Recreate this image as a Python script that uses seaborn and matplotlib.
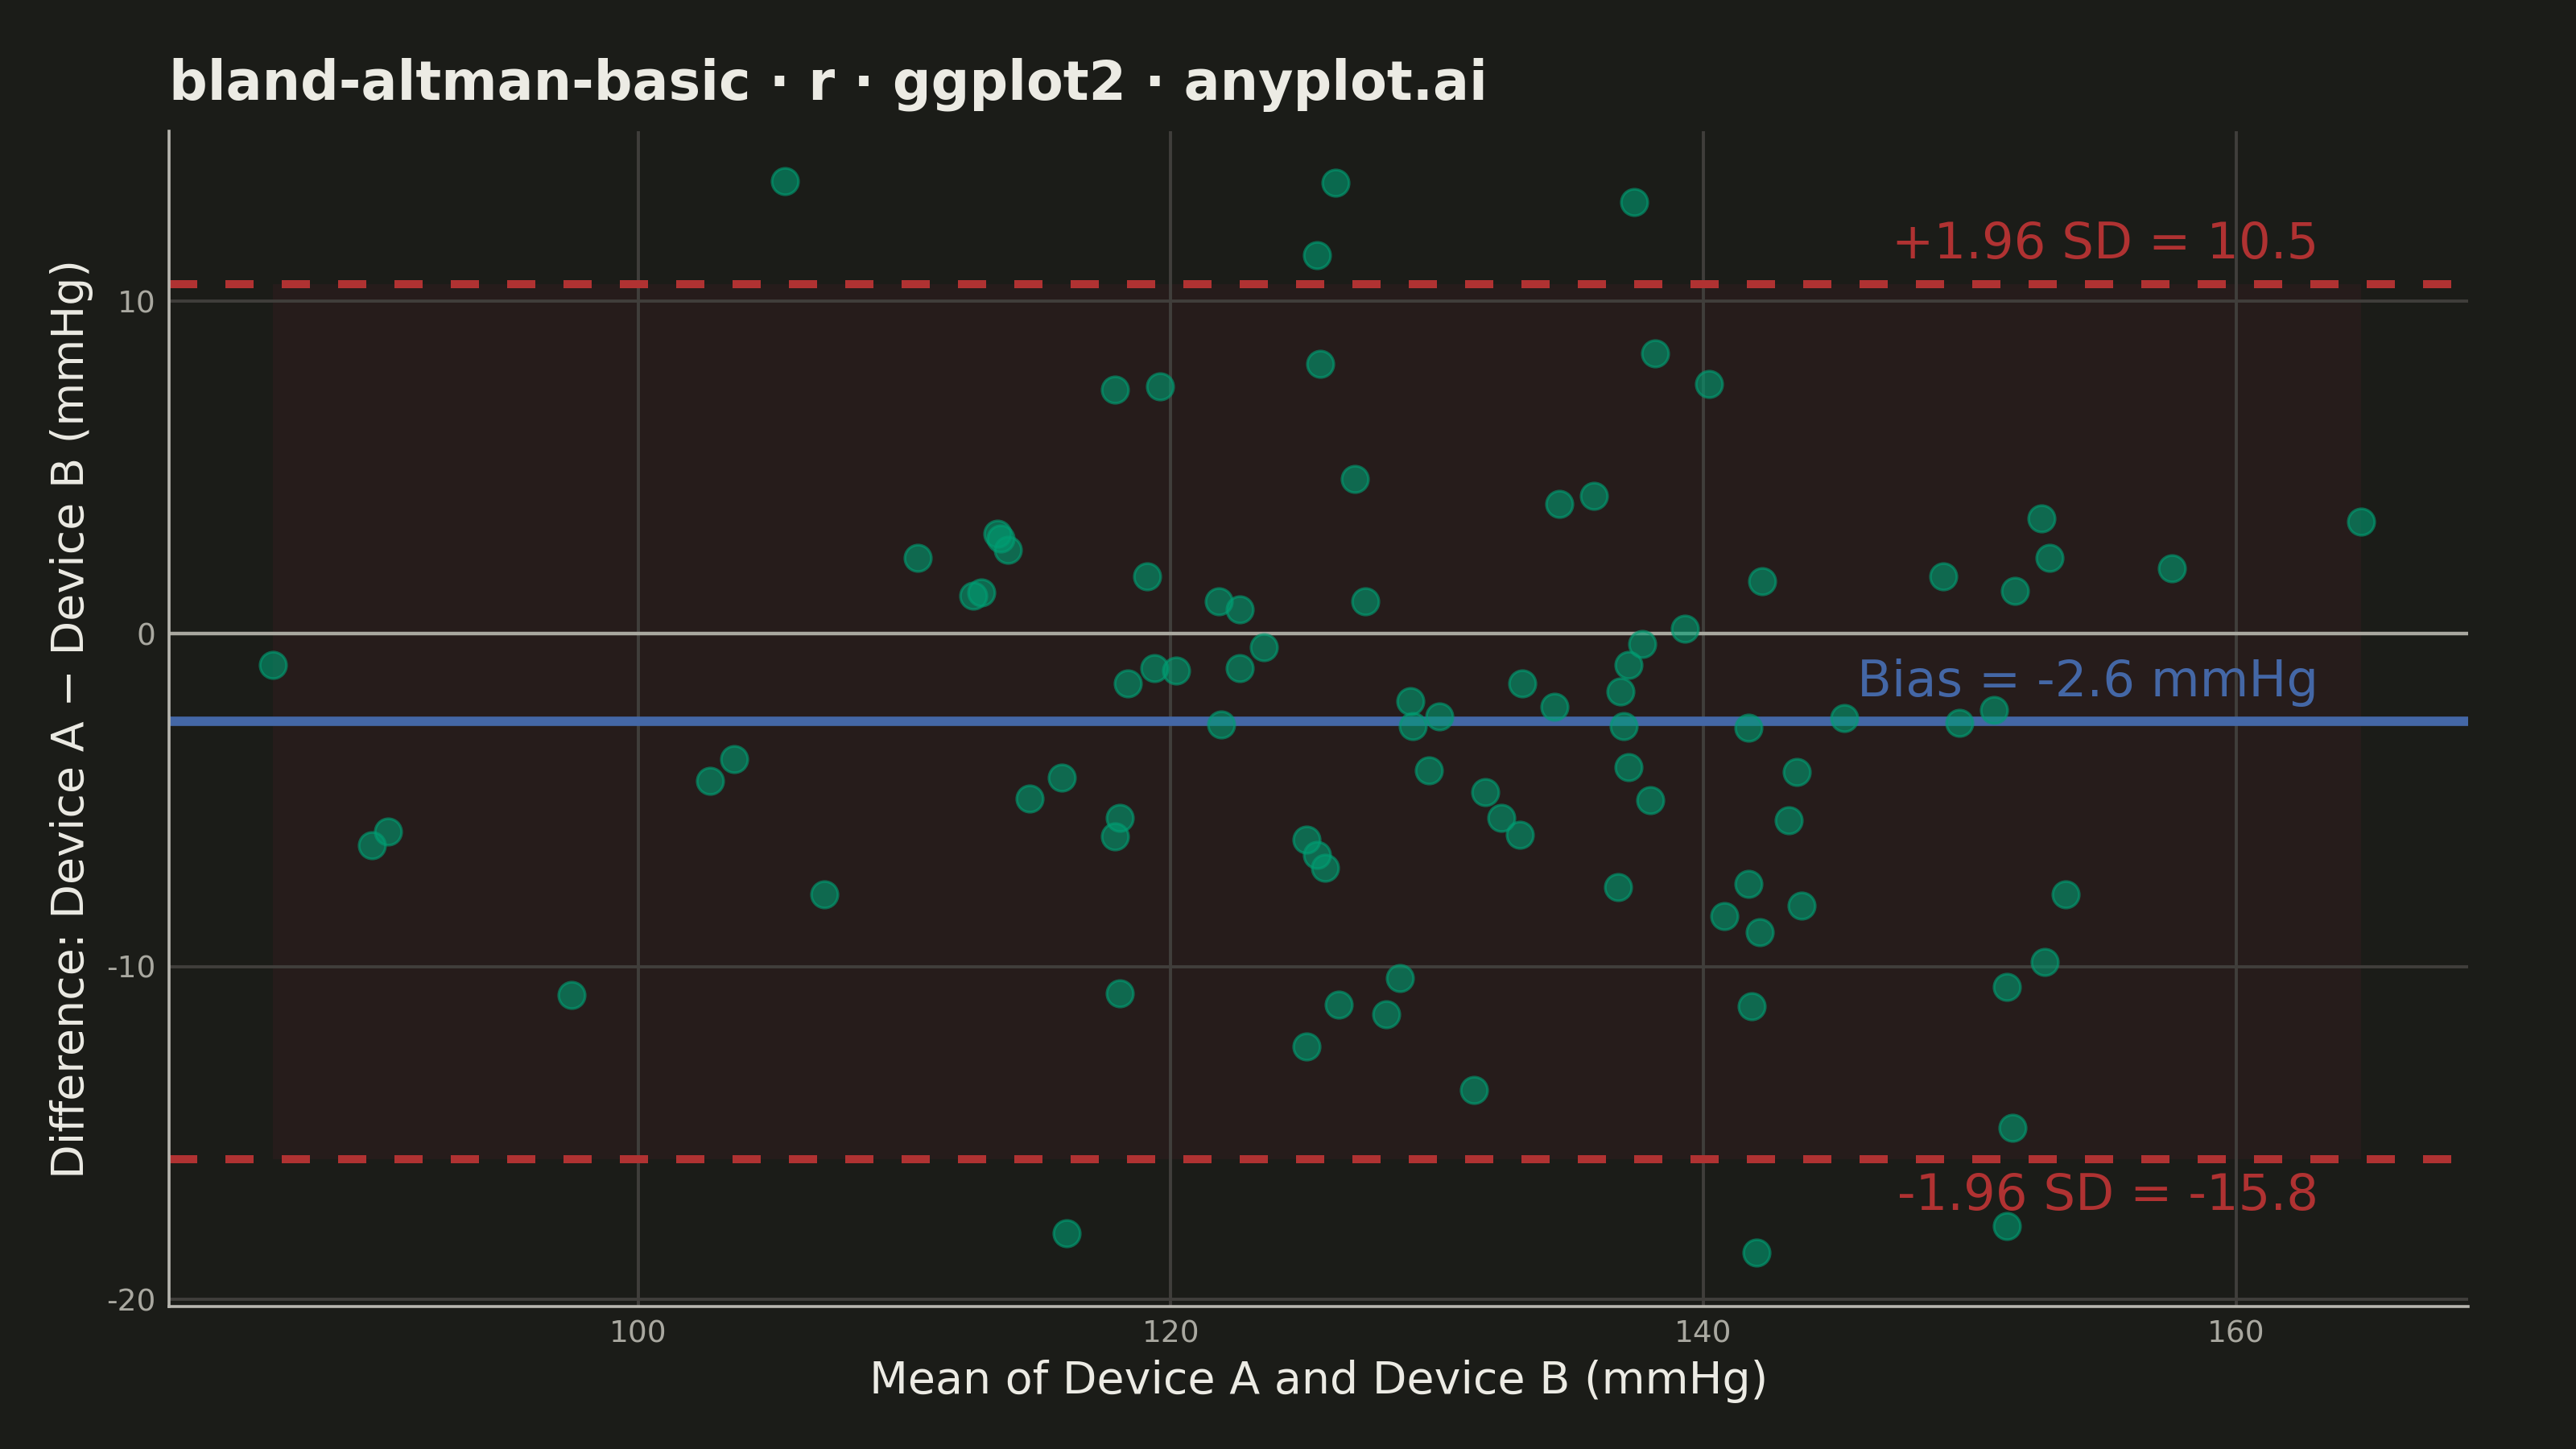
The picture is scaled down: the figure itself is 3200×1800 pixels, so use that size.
import matplotlib
matplotlib.use("Agg")
import numpy as np
import pandas as pd
import matplotlib.pyplot as plt
import seaborn as sns

# mean of the two devices (mmHg) and difference A - B (mmHg)
mean_ab = [86.3, 90.0, 90.6, 97.5, 102.7, 103.6, 105.5, 107.0, 110.5, 112.6,
           112.9, 113.5, 113.6, 113.9, 114.7, 115.9, 116.1, 117.9, 117.9, 118.1,
           118.1, 118.4, 119.1, 119.4, 119.6, 120.2, 121.8, 121.9, 122.6, 122.6,
           123.5, 125.1, 125.1, 125.5, 125.5, 125.6, 125.8, 126.2, 126.3, 126.9,
           127.3, 128.1, 128.6, 129.0, 129.1, 129.7, 130.1, 131.4, 131.8, 132.4,
           133.1, 133.2, 134.4, 134.6, 135.9, 136.8, 136.9, 137.0, 137.2, 137.2,
           137.4, 137.7, 138.0, 138.2, 139.3, 140.2, 140.8, 141.7, 141.7, 141.8,
           142.0, 142.1, 142.2, 143.2, 143.5, 143.7, 145.3, 149.0, 149.6, 150.9,
           151.4, 151.4, 151.6, 151.7, 152.7, 152.8, 153.0, 153.6, 157.6, 164.7]
diff_ab = [-0.94, -6.34, -5.94, -10.84, -4.41, -3.76, 13.6, -7.82, 2.28, 1.14,
           1.24, 3.02, 2.87, 2.52, -4.95, -4.31, -18.0, 7.33, -6.09, -5.54,
           -10.8, -1.49, 1.73, -1.04, 7.43, -1.09, 0.99, -2.72, 0.74, -1.04,
           -0.40, -6.19, -12.4, -6.63, 11.39, 8.12, -7.03, 13.56, -11.14, 4.65,
           0.99, -11.44, -10.35, -2.03, -2.77, -4.11, -2.48, -13.7, -4.75, -5.54,
           -6.04, -1.49, -2.18, 3.91, 4.16, -7.62, -1.73, -2.77, -0.94, -4.01,
           12.97, -0.30, -5.0, 8.42, 0.15, 7.52, -8.47, -7.52, -2.82, -11.19,
           -18.6, -8.96, 1.58, -5.59, -4.16, -8.17, -2.52, 1.73, -2.67, -2.28,
           -10.6, -17.8, -14.85, 1.29, 3.47, -9.85, 2.28, -7.82, 1.98, 3.37]

# summary statistics as printed on the chart
bias = -2.63
loa_upper = 10.52
loa_lower = -15.78

x_ticks = [100, 120, 140, 160]
y_ticks = [-20, -10, 0, 10]

BG = "#1b1c18"
TEXT = "#ecebe4"
TICK = "#a9a8a0"
GRID = "#403e3b"
GREEN = "#009E73"
BLUE = "#4467a6"
RED = "#b03232"

df = pd.DataFrame({"mean": mean_ab, "diff": diff_ab})

sns.set_theme(style="dark", rc={
    "figure.facecolor": BG,
    "axes.facecolor": BG,
    "axes.edgecolor": TICK,
    "text.color": TEXT,
    "axes.labelcolor": TEXT,
    "xtick.color": TICK,
    "ytick.color": TICK,
})
plt.rcParams["font.family"] = ["DejaVu Sans"]

fig = plt.figure(figsize=(16, 9), dpi=200)
ax = fig.add_axes([0.0657, 0.0986, 0.8923, 0.8107])

# agreement band between the limits
ax.fill_between([df["mean"].min(), df["mean"].max()], loa_lower, loa_upper,
                color="#261c1b", zorder=0.2, lw=0)

# grid
for xv in x_ticks:
    ax.axvline(xv, color=GRID, lw=1.4, zorder=0.5)
for yv in y_ticks:
    ax.axhline(yv, color=GRID, lw=1.4, zorder=0.5)

ax.axhline(0, color="#a9a8a0", lw=1.6, zorder=1)
ax.axhline(bias, color=BLUE, lw=4.2, zorder=2)
ax.axhline(loa_upper, color=RED, lw=3.6, ls=(0, (3.5, 3.5)), zorder=2)
ax.axhline(loa_lower, color=RED, lw=3.6, ls=(0, (3.5, 3.5)), zorder=2)

sns.scatterplot(data=df, x="mean", y="diff", ax=ax, s=140, color=GREEN,
                alpha=0.6, edgecolor=GREEN, linewidth=1.2, zorder=3)

lab_x = 163.1
ax.text(lab_x, loa_upper + 0.45, f"+1.96 SD = {loa_upper:.1f}", color=RED,
        fontsize=22.5, ha="right", va="bottom")
ax.text(lab_x, bias + 0.45, f"Bias = {bias:.1f} mmHg", color=BLUE,
        fontsize=22.5, ha="right", va="bottom")
ax.text(lab_x, loa_lower - 0.4, f"-1.96 SD = {loa_lower:.1f}", color=RED,
        fontsize=22.5, ha="right", va="top")

ax.set_xlim(82.4, 168.7)
ax.set_ylim(-20.2, 15.1)
ax.set_xticks(x_ticks)
ax.set_yticks(y_ticks)
ax.set_xticklabels([str(v) for v in x_ticks])
ax.set_yticklabels([str(v) for v in y_ticks])
ax.tick_params(axis="both", labelsize=13.5, length=0, pad=6)

ax.set_xlabel("Mean of Device A and Device B (mmHg)", fontsize=20, labelpad=5)
ax.set_ylabel("Difference: Device A \u2212 Device B (mmHg)", fontsize=20, labelpad=6)

for side in ["top", "right"]:
    ax.spines[side].set_visible(False)
for side in ["left", "bottom"]:
    ax.spines[side].set_color("#b8b7b0")
    ax.spines[side].set_linewidth(1.3)

ax.set_title("bland-altman-basic \u00b7 r \u00b7 ggplot2 \u00b7 anyplot.ai",
             loc="left", fontsize=24, fontweight="bold", color=TEXT, pad=14)

fig.savefig("out.png", dpi=200, facecolor=BG)
